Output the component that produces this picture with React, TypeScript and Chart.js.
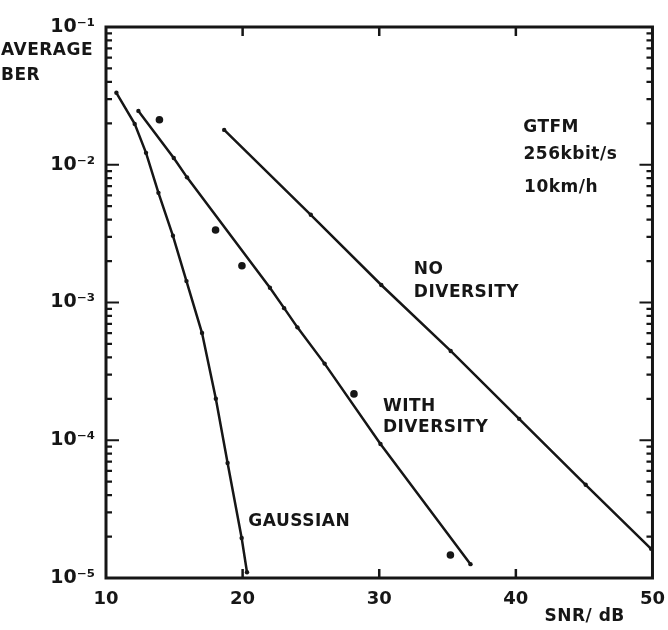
import React, { useEffect, useRef } from 'react';
import { Chart, registerables } from 'chart.js';

Chart.register(...registerables);

// ---- data ----
const gaussianSNR = [10.76, 12.1, 12.93, 13.84, 14.9, 15.89, 17.03, 18.04, 18.9, 19.93, 20.32];
const gaussianBER = [3.33e-2, 1.98e-2, 1.22e-2, 6.25e-3, 3.05e-3, 1.43e-3, 6.0e-4, 2.0e-4, 6.84e-5, 1.95e-5, 1.1e-5];

const withDivSNR = [12.37, 14.96, 15.93, 22.0, 23.04, 24.01, 26.0, 30.09, 36.68];
const withDivBER = [2.46e-2, 1.12e-2, 8.1e-3, 1.28e-3, 9.1e-4, 6.6e-4, 3.6e-4, 9.4e-5, 1.26e-5];

const noDivSNR = [18.65, 24.99, 30.15, 35.23, 40.24, 45.11, 49.9];
const noDivBER = [1.79e-2, 4.33e-3, 1.34e-3, 4.45e-4, 1.43e-4, 4.75e-5, 1.63e-5];

const measuredSNR = [13.91, 18.02, 19.95, 28.15, 35.21];
const measuredBER = [2.12e-2, 3.36e-3, 1.85e-3, 2.17e-4, 1.47e-5];

const xTickValues = [10, 20, 30, 40, 50];
const xTickLabels = ['10', '20', '30', '40', '50'];
const yTickValues = [1e-5, 1e-4, 1e-3, 1e-2, 1e-1];
const yTickLabels = ['10⁻⁵', '10⁻⁴', '10⁻³', '10⁻²', '10⁻¹'];

const labelTexts = ['GTFM', '256kbit/s', '10km/h', 'NO', 'DIVERSITY', 'WITH', 'DIVERSITY', 'GAUSSIAN'];
const labelSNR = [40.54, 40.56, 40.6, 32.53, 32.53, 30.27, 30.27, 20.42];
const labelBER = [1.85e-2, 1.18e-2, 6.8e-3, 1.73e-3, 1.19e-3, 1.77e-4, 1.23e-4, 2.55e-5];

const yTitleLines = ['AVERAGE', 'BER'];
const xTitle = 'SNR/ dB';

const INK = '#161616';
const FONT = '"DejaVu Sans", sans-serif';

const pts = (xs: number[], ys: number[]) => xs.map((x, i) => ({ x, y: ys[i] }));

const decorPlugin = {
  id: 'decor',
  afterDraw(chart: any) {
    const { ctx, chartArea: a, scales } = chart;
    const x = scales.x;
    const y = scales.y;
    ctx.save();
    ctx.strokeStyle = INK;
    ctx.fillStyle = INK;
    ctx.lineCap = 'butt';
    // frame
    ctx.lineWidth = 3;
    ctx.strokeRect(a.left, a.top, a.right - a.left, a.bottom - a.top);
    // y ticks (inward, both sides)
    ctx.lineWidth = 2.2;
    for (let d = -5; d <= -1; d++) {
      for (let m = 1; m < 10; m++) {
        const v = m * Math.pow(10, d);
        if (v > 0.1 + 1e-12) break;
        const py = y.getPixelForValue(v);
        const len = m === 1 ? 13 : 6;
        ctx.beginPath();
        ctx.moveTo(a.left, py);
        ctx.lineTo(a.left + len, py);
        ctx.moveTo(a.right, py);
        ctx.lineTo(a.right - len, py);
        ctx.stroke();
      }
    }
    // x ticks (inward, top and bottom)
    ctx.lineWidth = 2.5;
    xTickValues.forEach((v) => {
      if (v <= x.min || v >= x.max) return;
      const px = x.getPixelForValue(v);
      ctx.beginPath();
      ctx.moveTo(px, a.top);
      ctx.lineTo(px, a.top + 9);
      ctx.moveTo(px, a.bottom);
      ctx.lineTo(px, a.bottom - 9);
      ctx.stroke();
    });
    // annotations
    ctx.font = `bold 17px ${FONT}`;
    (ctx as any).letterSpacing = '0.5px';
    ctx.textBaseline = 'middle';
    ctx.textAlign = 'left';
    labelTexts.forEach((t, i) => {
      ctx.fillText(t, x.getPixelForValue(labelSNR[i]), y.getPixelForValue(labelBER[i]));
    });
    // axis titles
    ctx.fillText(yTitleLines[0], 1, a.top + 24);
    ctx.fillText(yTitleLines[1], 1, a.top + 49);
    ctx.fillText(xTitle, a.right - 108, a.bottom + 39);
    ctx.restore();
  },
};

export default function App() {
  const ref = useRef<HTMLCanvasElement | null>(null);
  useEffect(() => {
    if (!ref.current) return;
    const lineStyle = {
      borderColor: INK,
      backgroundColor: INK,
      borderWidth: 2.5,
      pointRadius: 2.2,
      pointBorderWidth: 0,
      tension: 0,
      showLine: true,
      fill: false,
    };
    const chart = new Chart(ref.current, {
      type: 'scatter',
      data: {
        datasets: [
          { label: 'GAUSSIAN', data: pts(gaussianSNR, gaussianBER), ...lineStyle },
          { label: 'WITH DIVERSITY', data: pts(withDivSNR, withDivBER), ...lineStyle },
          { label: 'NO DIVERSITY', data: pts(noDivSNR, noDivBER), ...lineStyle },
          {
            label: 'measured',
            data: pts(measuredSNR, measuredBER),
            showLine: false,
            pointRadius: 3.8,
            pointBorderWidth: 0,
            backgroundColor: INK,
            borderColor: INK,
          },
        ],
      },
      options: {
        animation: false,
        responsive: true,
        maintainAspectRatio: false,
        layout: { padding: { top: 27, right: 12, left: 0, bottom: 0 } },
        plugins: { legend: { display: false }, tooltip: { enabled: false } },
        scales: {
          x: {
            type: 'linear',
            min: 10,
            max: 50,
            grid: { display: false },
            border: { display: false },
            afterBuildTicks: (s: any) => {
              s.ticks = xTickValues.map((v) => ({ value: v }));
            },
            afterFit: (s: any) => {
              s.height = 52;
            },
            ticks: {
              color: INK,
              font: { family: FONT, size: 18, weight: 'bold' },
              padding: 3,
              maxRotation: 0,
              callback: (v: any) => {
                const i = xTickValues.indexOf(Number(v));
                return i >= 0 ? xTickLabels[i] : '';
              },
            },
          },
          y: {
            type: 'logarithmic',
            min: 1e-5,
            max: 1e-1,
            grid: { display: false },
            border: { display: false },
            afterBuildTicks: (s: any) => {
              s.ticks = yTickValues.map((v) => ({ value: v }));
            },
            afterFit: (s: any) => {
              s.width = 106;
            },
            ticks: {
              color: INK,
              font: { family: FONT, size: 19, weight: 'bold' },
              padding: 3,
              callback: (v: any) => {
                const i = yTickValues.findIndex((t) => Math.abs(t - Number(v)) / t < 1e-6);
                return i >= 0 ? yTickLabels[i] : '';
              },
            },
          },
        },
      },
      plugins: [decorPlugin],
    });
    return () => chart.destroy();
  }, []);
  return (
    <div style={{ position: 'absolute', left: 0, top: 0, width: 668, height: 630, background: '#fff' }}>
      <canvas ref={ref} />
    </div>
  );
}
